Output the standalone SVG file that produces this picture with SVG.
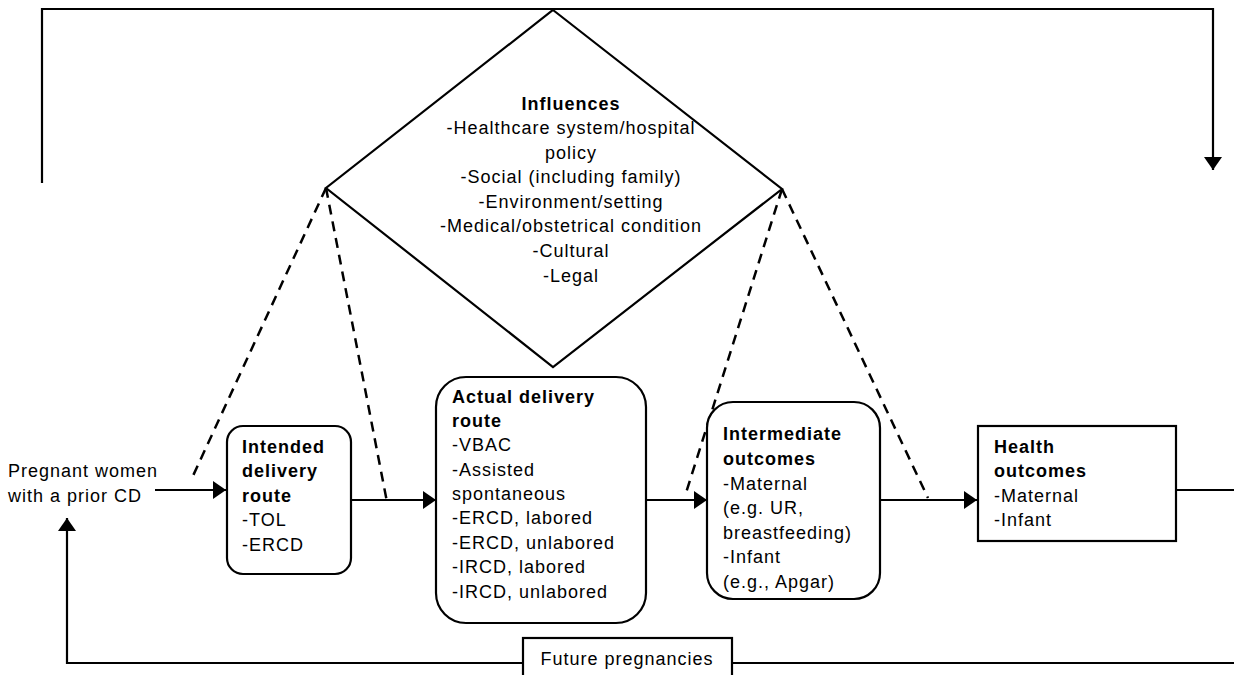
<svg xmlns="http://www.w3.org/2000/svg" width="1234" height="675" viewBox="0 0 1234 675">
<style>
text{font-family:"Liberation Sans",Arial,sans-serif;font-size:18px;letter-spacing:1px;fill:#000}
.b{font-weight:bold}
.c{text-anchor:middle}
.box{fill:#fff;stroke:#000;stroke-width:2.2}
.ln{fill:none;stroke:#000;stroke-width:2.2}
.dash{fill:none;stroke:#000;stroke-width:2.5;stroke-dasharray:10 7}
</style>
<defs>
<marker id="ah" markerUnits="userSpaceOnUse" markerWidth="14" markerHeight="18" refX="13" refY="9" orient="auto">
<path d="M0,0 L13,9 L0,18 z" fill="#000"/>
</marker>
</defs>
<rect width="1234" height="675" fill="#fff"/>
<g id="connectors">
<polyline class="ln" points="42,183 42,9 1213,9 1213,170" marker-end="url(#ah)"/>
<line class="ln" x1="155" y1="490" x2="226" y2="490" marker-end="url(#ah)"/>
<line class="ln" x1="351" y1="500" x2="436" y2="500" marker-end="url(#ah)"/>
<line class="ln" x1="646" y1="500" x2="707" y2="500" marker-end="url(#ah)"/>
<line class="ln" x1="880" y1="500" x2="977" y2="500" marker-end="url(#ah)"/>
<polyline class="ln" points="1176,490 1234,490"/>
<polyline class="ln" points="1234,663 67,663 67,518" marker-end="url(#ah)"/>
<line class="dash" x1="326" y1="188" x2="192" y2="478"/>
<line class="dash" x1="326" y1="188" x2="387" y2="502"/>
<line class="dash" x1="782" y1="189" x2="685" y2="496"/>
<line class="dash" x1="782" y1="189" x2="928" y2="498"/>
</g>
<g id="influences">
<polygon class="box" points="553,10 782,189 553,367 326,188"/>
<text class="b c" x="571" y="110">Influences</text>
<text class="c" x="571" y="134">-Healthcare system/hospital</text>
<text class="c" x="571" y="159">policy</text>
<text class="c" x="571" y="183">-Social (including family)</text>
<text class="c" x="571" y="208">-Environment/setting</text>
<text class="c" x="571" y="232">-Medical/obstetrical condition</text>
<text class="c" x="571" y="257">-Cultural</text>
<text class="c" x="571" y="282">-Legal</text>
</g>
<g id="start">
<text x="8" y="477">Pregnant women</text>
<text x="8" y="502">with a prior CD</text>
</g>
<g id="intended">
<rect class="box" x="227" y="426" width="124" height="148" rx="16"/>
<text class="b" x="242" y="453">Intended</text>
<text class="b" x="242" y="477">delivery</text>
<text class="b" x="242" y="502">route</text>
<text x="242" y="526">-TOL</text>
<text x="242" y="551">-ERCD</text>
</g>
<g id="actual">
<rect class="box" x="436" y="377" width="210" height="246" rx="30"/>
<text class="b" x="452" y="403">Actual delivery</text>
<text class="b" x="452" y="427">route</text>
<text x="452" y="451">-VBAC</text>
<text x="452" y="476">-Assisted</text>
<text x="452" y="500">spontaneous</text>
<text x="452" y="524">-ERCD, labored</text>
<text x="452" y="549">-ERCD, unlabored</text>
<text x="452" y="573">-IRCD, labored</text>
<text x="452" y="598">-IRCD, unlabored</text>
</g>
<g id="intermediate">
<rect class="box" x="707" y="402" width="173" height="197" rx="26"/>
<text class="b" x="723" y="440">Intermediate</text>
<text class="b" x="723" y="465">outcomes</text>
<text x="723" y="490">-Maternal</text>
<text x="723" y="514">(e.g. UR,</text>
<text x="723" y="539">breastfeeding)</text>
<text x="723" y="563">-Infant</text>
<text x="723" y="588">(e.g., Apgar)</text>
</g>
<g id="health">
<rect class="box" x="978" y="426" width="198" height="115"/>
<text class="b" x="994" y="453">Health</text>
<text class="b" x="994" y="477">outcomes</text>
<text x="994" y="502">-Maternal</text>
<text x="994" y="526">-Infant</text>
</g>
<g id="future">
<rect class="box" x="523" y="638" width="209" height="45"/>
<text class="c" x="627" y="665">Future pregnancies</text>
</g>
</svg>
